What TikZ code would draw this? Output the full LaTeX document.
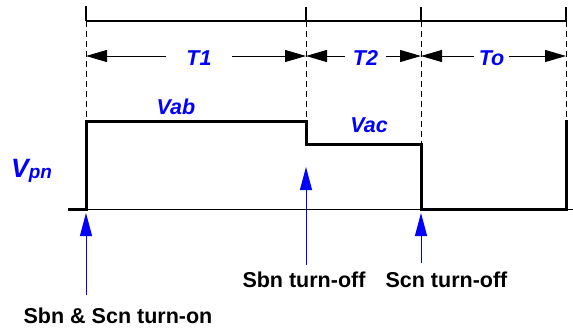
\documentclass[tikz,border=0pt]{standalone}
\usepackage{fontspec}
\setmainfont{Liberation Sans}
\usetikzlibrary{arrows.meta}
\begin{document}
\begin{tikzpicture}[x=1pt,y=-1pt,
  thickwave/.style={line width=3pt,line join=miter},
  topline/.style={line width=2.6pt},
  tickline/.style={line width=2pt},
  guide/.style={line width=0.8pt,dash pattern=on 6pt off 4pt},
  dimline/.style={line width=1pt,{Triangle[length=21pt,width=12pt]}-{Triangle[length=21pt,width=12pt]}},
  dimlabel/.style={fill=white,inner ysep=3pt,text=blue,font=\fontsize{21.5}{24}\selectfont\bfseries\itshape},
  wavelabel/.style={anchor=base,inner sep=0pt,text=blue,font=\fontsize{21.5}{24}\selectfont\bfseries\itshape},
  eventarrow/.style={blue,line width=1pt,-{Triangle[length=23pt,width=12pt]}},
  eventlabel/.style={anchor=base,inner sep=0pt,font=\fontsize{21.5}{24}\selectfont\bfseries}]
\useasboundingbox (0,0) rectangle (573,330);
% time instants
\coordinate (a0) at (86,6);   \coordinate (a1) at (86,21);  \coordinate (a2) at (86,121);
\coordinate (b0) at (306,7);  \coordinate (b1) at (306,21); \coordinate (b2) at (306,121);
\coordinate (c0) at (421,7);  \coordinate (c1) at (421,21); \coordinate (c2) at (421,144);
\coordinate (d0) at (566,7);  \coordinate (d1) at (566,21); \coordinate (d2) at (566,120);
% top bar
\draw[topline] (a1) -- (d1);
\draw[tickline] (a0) -- (a1);
\draw[tickline] (b0) -- (b1);
\draw[tickline] (c0) -- (c1);
\draw[tickline] (d0) -- (d1);
% guides
\draw[guide] (a1) -- (a2);
\draw[guide] (b1) -- (b2);
\draw[guide] (c1) -- (c2);
\draw[guide] (d1) -- (d2);
% dimension arrows
\coordinate (ra) at (86,56); \coordinate (rb) at (306,56);
\coordinate (rc) at (421,56); \coordinate (rd) at (566,56);
\draw[dimline] (ra) -- (rb) node[midway,dimlabel,inner xsep=20pt,xshift=3pt,yshift=-2pt] (T1) {T1};
\draw[dimline] (rb) -- (rc) node[midway,dimlabel,inner xsep=8pt,xshift=2pt,yshift=-2pt] (T2) {T2};
\draw[dimline] (rc) -- (rd) node[midway,dimlabel,inner xsep=5pt,xshift=-2pt,yshift=-2pt] (To) {To};
% baseline and waveform
\coordinate (z0) at (68,209); \coordinate (z1) at (573,209);
\coordinate (az) at (86,209); \coordinate (bc) at (306,144);
\coordinate (cz) at (421,209); \coordinate (dz) at (566,209);
\draw[line width=1pt] (z0) -- (z1);
\draw[thickwave] (z0) -- (az) -- (a2) -- (b2) -- (bc) -- (c2) -- (cz) -- (dz) -- (d2);
\node[wavelabel] (Vab) at (176,114) {Vab};
\node[wavelabel] (Vac) at (369,132) {Vac};
\node[anchor=base west,inner sep=0pt,text=blue] (Vpn) at (11,177)
  {\fontsize{26.5}{30}\selectfont\bfseries\itshape V\raisebox{-1pt}{\fontsize{19}{22}\selectfont pn}};
% event arrows
\coordinate (ea0) at (86,295);  \coordinate (ea1) at (86,213);
\coordinate (eb0) at (306,265); \coordinate (eb1) at (306,167);
\coordinate (ec0) at (421,263); \coordinate (ec1) at (421,213);
\draw[eventarrow] (ea0) -- (ea1);
\draw[eventarrow] (eb0) -- (eb1);
\draw[eventarrow] (ec0) -- (ec1);
\node[eventlabel] (Lon) at (118,323) {Sbn \& Scn turn-on};
\node[eventlabel] (Lboff) at (304,287) {Sbn turn-off};
\node[eventlabel] (Lcoff) at (446.5,287) {Scn turn-off};
\end{tikzpicture}
\end{document}
